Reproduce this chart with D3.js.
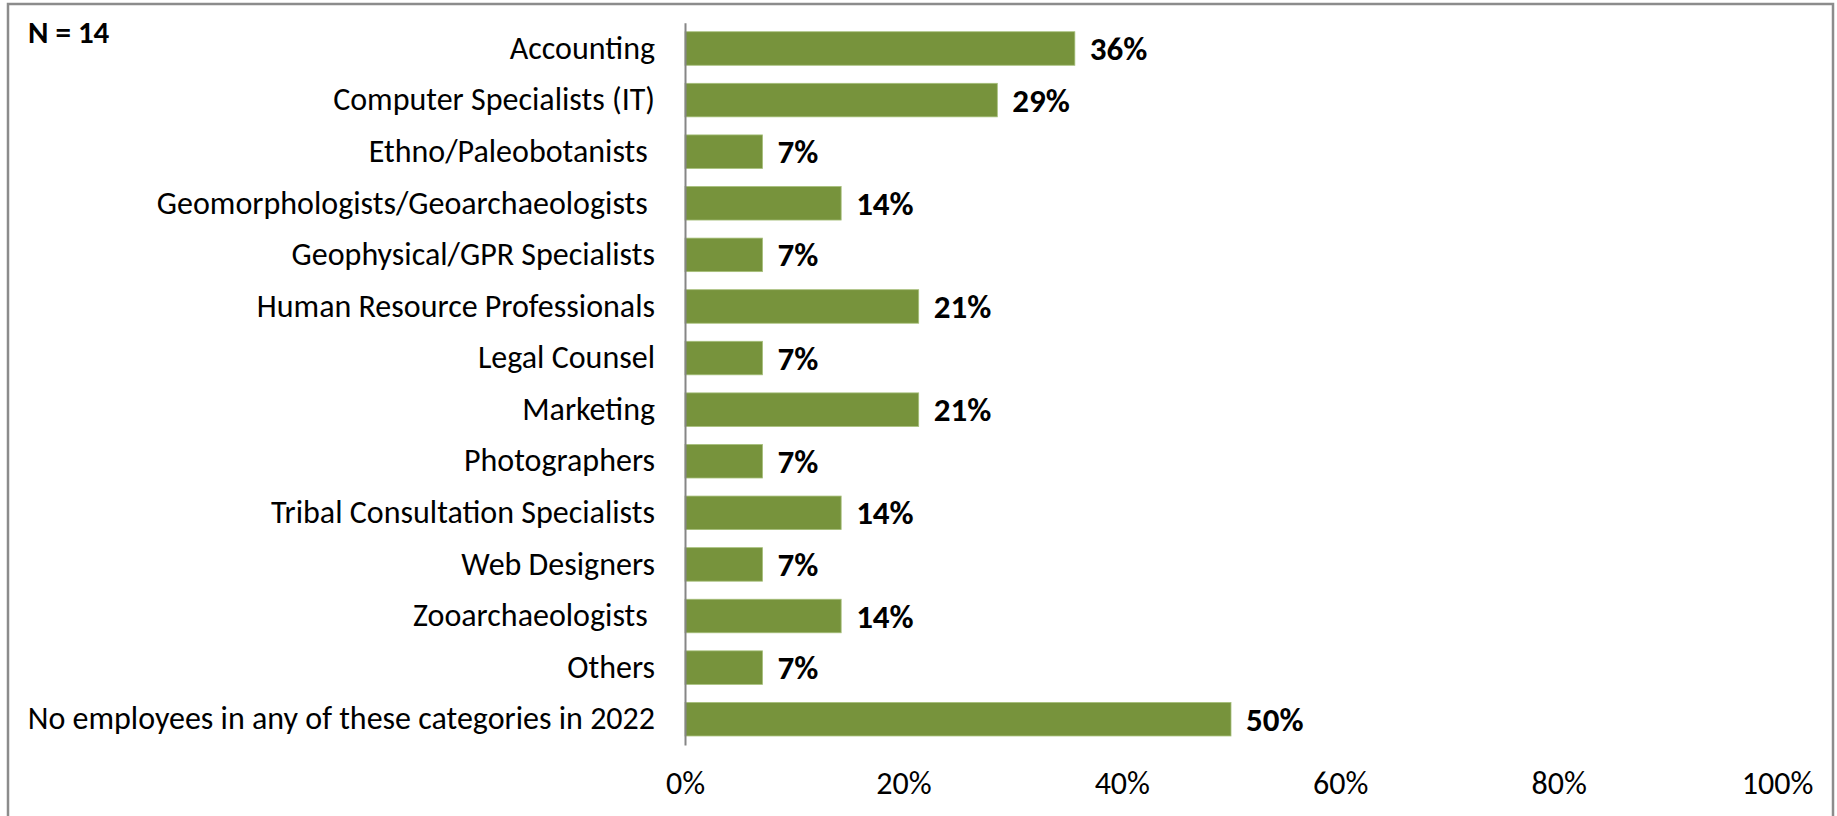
<!DOCTYPE html>
<html>
<head>
<meta charset="utf-8">
<script src="https://cdn.jsdelivr.net/npm/d3@7/dist/d3.min.js"></script>
<style>
  html, body { margin: 0; padding: 0; background: #fff; }
  svg { display: block; }
  text { font-family: Carlito, Lato, "Open Sans", sans-serif; fill: #000; }
</style>
</head>
<body>
<svg id="chart" width="1837" height="816"></svg>
<script>
// Staff categories (top to bottom) and share of firms employing them
const categories = [
  "Accounting",
  "Computer Specialists (IT)",
  "Ethno/Paleobotanists ",
  "Geomorphologists/Geoarchaeologists ",
  "Geophysical/GPR Specialists",
  "Human Resource Professionals",
  "Legal Counsel",
  "Marketing",
  "Photographers",
  "Tribal Consultation Specialists",
  "Web Designers",
  "Zooarchaeologists ",
  "Others",
  "No employees in any of these categories in 2022"
];
const shares = [0.357, 0.286, 0.071, 0.143, 0.071, 0.214, 0.071, 0.214, 0.071, 0.143, 0.071, 0.143, 0.071, 0.50];
const xTickValues = [0, 0.2, 0.4, 0.6, 0.8, 1.0];
const sampleNote = "N = 14";

const svg = d3.select("#chart");
const W = 1837, H = 816;

// outer frame
svg.append("rect")
  .attr("x", 8).attr("y", 4)
  .attr("width", 1825).attr("height", H + 20)
  .attr("fill", "none")
  .attr("stroke", "#8c8c8c")
  .attr("stroke-width", 2.5);

const x = d3.scaleLinear().domain([0, 1]).range([685, 1777]);
const y = d3.scaleBand()
  .domain(categories)
  .range([22.7, 745])
  .paddingInner(0.35)
  .paddingOuter(0.175);

const fmt = d3.format(".0%");

// bars
svg.append("g").selectAll("rect")
  .data(categories)
  .join("rect")
  .attr("x", x(0))
  .attr("y", d => y(d))
  .attr("width", (d, i) => x(shares[i]) - x(0))
  .attr("height", y.bandwidth())
  .attr("fill", "#77933c")
  .attr("stroke", "#a6bf7a")
  .attr("stroke-width", 0.8);

// category axis
const yAxis = svg.append("g")
  .attr("transform", `translate(${x(0)},0)`)
  .call(d3.axisLeft(y).tickSize(0).tickSizeOuter(0).tickPadding(30));
yAxis.select(".domain").attr("stroke", "#868686").attr("stroke-width", 2);
yAxis.selectAll(".tick text")
  .attr("font-size", 32)
  .style("font-family", "Carlito, Lato, sans-serif")
  .style("white-space", "pre")
  .attr("fill", "#000");

// value axis (labels only)
const xAxis = svg.append("g")
  .attr("transform", `translate(0,783)`)
  .call(d3.axisBottom(x).tickValues(xTickValues).tickFormat(fmt).tickSize(0).tickPadding(0));
xAxis.select(".domain").remove();
xAxis.selectAll(".tick text")
  .attr("y", 0)
  .attr("dy", "0.35em")
  .attr("font-size", 32)
  .style("font-family", "Carlito, Lato, sans-serif")
  .attr("fill", "#000");

// value labels
svg.append("g").selectAll("text")
  .data(categories)
  .join("text")
  .attr("x", (d, i) => x(shares[i]) + 15)
  .attr("y", d => y(d) + y.bandwidth() / 2)
  .attr("dy", "0.35em")
  .attr("font-size", 33)
  .attr("font-weight", "bold")
  .text((d, i) => fmt(shares[i]));

// sample size note
svg.append("text")
  .attr("x", 28)
  .attr("y", 32)
  .attr("dy", "0.35em")
  .attr("font-size", 31)
  .attr("font-weight", "bold")
  .text(sampleNote);
</script>
</body>
</html>
